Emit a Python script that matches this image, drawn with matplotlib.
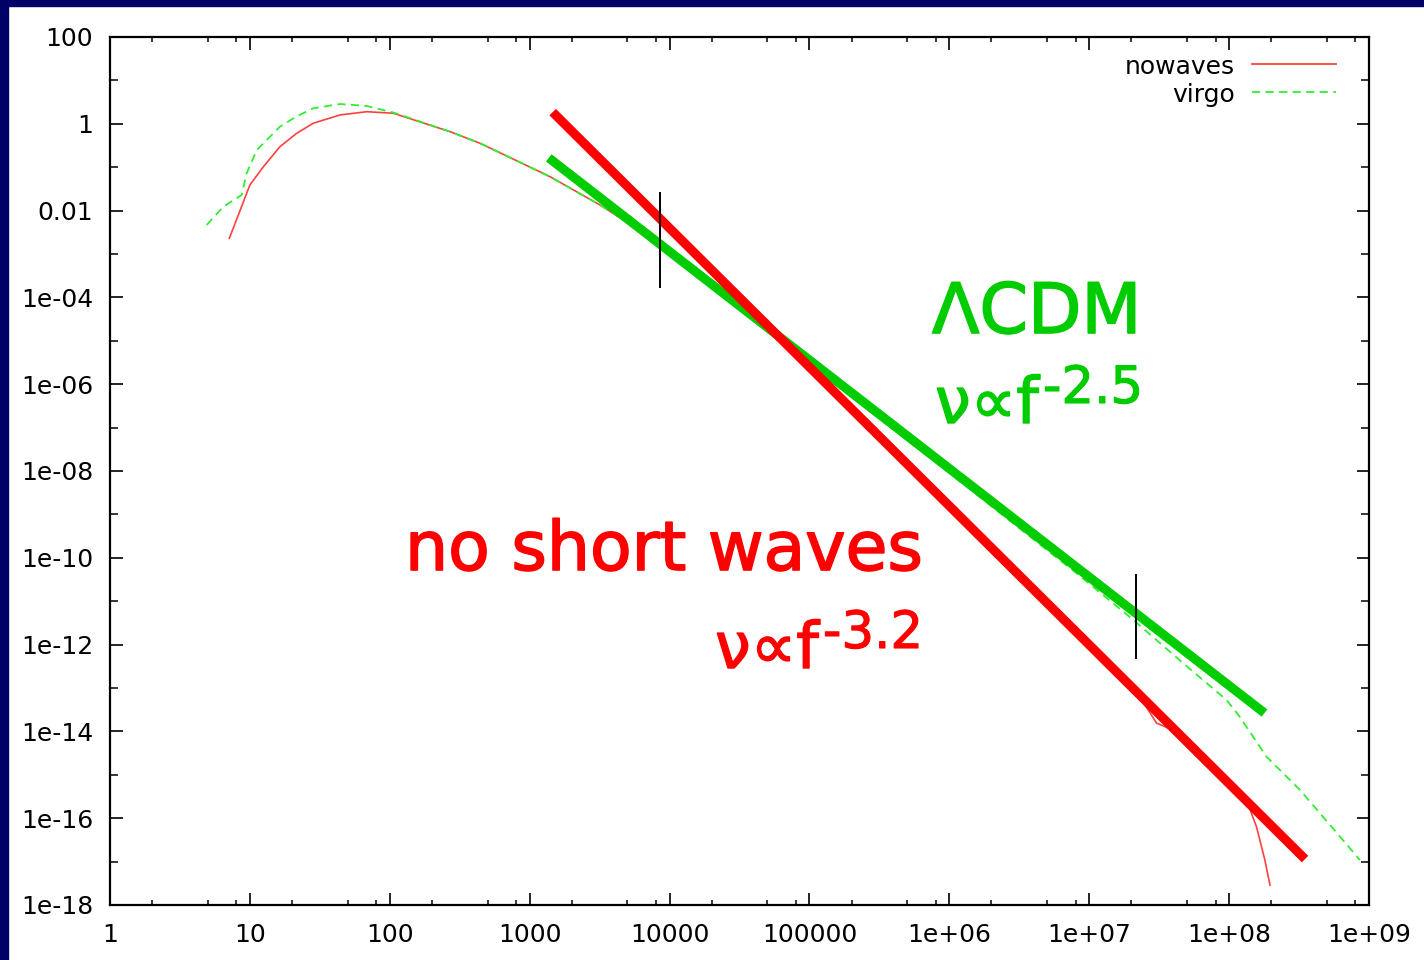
import matplotlib
matplotlib.use("Agg")
import numpy as np
import matplotlib.pyplot as plt
import matplotlib.patheffects as pe
from matplotlib.ticker import FixedLocator, FixedFormatter, NullFormatter
from matplotlib.patches import Rectangle

# ---- data -------------------------------------------------------------
# simulation without short waves
nowaves_f = [7.13, 10, 12.5, 16.4, 21.6, 28.4, 44.1, 68.4, 106,
             269, 442, 1400, 3180, 8510, 17800, 37600,
             1.12e5, 2.30e5, 4.44e5, 2.30e6, 6.17e6, 1.19e7,
             2.30e7, 3.03e7, 3.98e7, 6.31e7, 1.07e8, 1.33e8, 1.57e8, 1.80e8, 1.96e8]
nowaves_v = [2.30e-3, 3.89e-2, 0.103, 0.297, 0.604, 1.03, 1.60, 1.90, 1.75,
             0.661, 0.356, 6.03e-2, 1.35e-2, 1.78e-3, 2.84e-4, 4.27e-5,
             1.58e-6, 1.40e-7, 1.70e-8, 9.33e-11, 4.07e-12, 5.13e-13,
             6.31e-14, 1.55e-14, 1.07e-14, 2.86e-15, 5.37e-16, 2.63e-16, 6.31e-17, 1.10e-17, 2.88e-18]

# Virgo LCDM run
virgo_f = [4.91, 6.46, 8.73, 9.48, 11.2, 16.4, 21.4, 28.4, 44.1, 68.4, 106,
           269, 442, 1400, 3180, 8510, 17800, 37600,
           1.12e5, 2.30e5, 4.44e5, 2.30e6, 8.59e6, 2.07e7, 4.70e7, 9.59e7,
           1.19e8, 1.85e8, 3.21e8, 4.46e8, 8.61e8]
virgo_v = [4.66e-3, 1.23e-2, 2.29e-2, 7.23e-2, 0.249, 0.857, 1.46, 2.28, 2.86, 2.57, 1.82,
           0.661, 0.356, 6.03e-2, 1.35e-2, 1.78e-3, 2.84e-4, 4.27e-5,
           2.09e-6, 3.77e-7, 7.13e-8, 1.08e-9, 3.81e-11, 3.69e-12, 3.71e-13, 5.30e-14,
           2.18e-14, 2.61e-15, 4.47e-16, 1.30e-16, 1.09e-17]

# power-law fits: exponent, pivot (f, v) and f-range
nowaves_slope = -3.2
nowaves_pivot = (7.16e5, 4.56e-9)
nowaves_range = (1460, 3.49e8)

lcdm_slope = -2.5
lcdm_pivot = (4.99e5, 6.47e-8)
lcdm_range = (1370, 1.79e8)

# fit-range markers: (f, v_top, v_bottom)
markers = [(8540, 2.55e-2, 1.74e-4), (2.15e7, 4.02e-11, 4.83e-13)]

x_ticks = [10.0 ** k for k in range(10)]
x_labels = ["1", "10", "100", "1000", "10000", "100000",
            "1e+06", "1e+07", "1e+08", "1e+09"]
y_ticks = [10.0 ** k for k in range(2, -19, -2)]
y_labels = ["100", "1", "0.01", "1e-04", "1e-06", "1e-08", "1e-10",
            "1e-12", "1e-14", "1e-16", "1e-18"]

# ---- figure -----------------------------------------------------------
W, H = 1424, 960
fig = plt.figure(figsize=(W / 100, H / 100), dpi=100)
fig.patch.set_facecolor("white")
ax = fig.add_axes([110 / W, 1 - 905 / H, 1259 / W, 868 / H])
ax.set_xscale("log")
ax.set_yscale("log")
ax.set_xlim(1, 1e9)
ax.set_ylim(1e-18, 100)

RED_THIN = "#ff4040"
GREEN_THIN = "#30ee30"
RED = "#ff0000"
GREEN = "#00cc00"
DASH = (0, (4.5, 3))

ax.plot(nowaves_f, nowaves_v, color=RED_THIN, lw=1.2, zorder=2)
ax.plot(virgo_f, virgo_v, color=GREEN_THIN, lw=1.3, ls=DASH, zorder=2)


def power_law(rng, pivot, slope):
    f = np.array(rng, dtype=float)
    return f, pivot[1] * (f / pivot[0]) ** slope


fg, vg = power_law(lcdm_range, lcdm_pivot, lcdm_slope)
ax.plot(fg, vg, color=GREEN, lw=6.6, solid_capstyle="butt", zorder=3)
fr, vr = power_law(nowaves_range, nowaves_pivot, nowaves_slope)
ax.plot(fr, vr, color=RED, lw=6.6, solid_capstyle="butt", zorder=4)

for f, v1, v2 in markers:
    ax.plot([f, f], [v1, v2], color="black", lw=1.4, zorder=5)

# ---- axes styling -----------------------------------------------------
for s in ax.spines.values():
    s.set_linewidth(1.6)
    s.set_color("black")

ax.xaxis.set_major_locator(FixedLocator(x_ticks))
ax.xaxis.set_major_formatter(FixedFormatter(x_labels))
ax.xaxis.set_minor_locator(FixedLocator(
    [m * 10.0 ** k for k in range(9) for m in (2, 5, 8)]))
ax.xaxis.set_minor_formatter(NullFormatter())
ax.yaxis.set_major_locator(FixedLocator(y_ticks))
ax.yaxis.set_major_formatter(FixedFormatter(y_labels))
ax.yaxis.set_minor_locator(FixedLocator([10.0 ** k for k in range(1, -18, -2)]))
ax.yaxis.set_minor_formatter(NullFormatter())

ax.tick_params(which="both", direction="in", top=True, right=True,
               colors="black", labelsize=18)
ax.tick_params(axis="x", which="major", length=9, width=1.2, pad=13)
ax.tick_params(axis="x", which="minor", length=3.8, width=1.1)
ax.tick_params(axis="y", which="major", length=9, width=1.2, pad=12)
ax.tick_params(axis="y", which="minor", length=5.8, width=1.1)
for lab in ax.get_xticklabels() + ax.get_yticklabels():
    lab.set_fontfamily("DejaVu Sans")

# ---- legend -----------------------------------------------------------
def ax_xy(px, py):
    return (px - 110) / 1259, (905 - py) / 868


for name, color, ls, py in [("nowaves", RED_THIN, "-", 64),
                            ("virgo", GREEN_THIN, DASH, 92)]:
    tx, ty = ax_xy(1235, py + 10)
    ax.text(tx, ty, name, transform=ax.transAxes, ha="right", va="baseline",
            fontsize=18, color="black")
    x0, y0 = ax_xy(1252, py)
    x1, _ = ax_xy(1336, py)
    ax.plot([x0, x1], [y0, y0], transform=ax.transAxes, color=color,
            lw=1.3, ls=ls, clip_on=False)

# ---- annotations ------------------------------------------------------
def fig_xy(px, py):
    return px / W, 1 - py / H


def bold(color, w=1.0):
    return [pe.withStroke(linewidth=w, foreground=color)]


renderer = fig.canvas.get_renderer()


def power_label(px, py, sup_rise, text, exponent, color):
    base = fig.text(*fig_xy(px, py), text, color=color, fontsize=46,
                    ha="left", va="baseline", path_effects=bold(color))
    x_end = base.get_window_extent(renderer).x1
    fig.text(x_end / W + 4 / W, 1 - (py - sup_rise) / H, exponent, color=color,
             fontsize=37, ha="left", va="baseline", path_effects=bold(color, 0.8))


fig.text(*fig_xy(932, 333), "ΛCDM", color=GREEN, fontsize=50,
         ha="left", va="baseline", path_effects=bold(GREEN, 1.2))
power_label(935, 423, 20, "ν∝f", "-2.5", GREEN)

fig.text(*fig_xy(405, 570), "no short waves", color=RED, fontsize=49,
         ha="left", va="baseline", path_effects=bold(RED, 1.2))
power_label(715, 668, 20, "ν∝f", "-3.2", RED)

# slide frame
NAVY = "#000066"
fig.patches.append(Rectangle((0, 1 - 6 / H), 1, 6 / H, transform=fig.transFigure,
                             color=NAVY, zorder=10))
fig.patches.append(Rectangle((0, 0), 8 / W, 1, transform=fig.transFigure,
                             color=NAVY, zorder=10))

fig.savefig("out.png", dpi=100)
